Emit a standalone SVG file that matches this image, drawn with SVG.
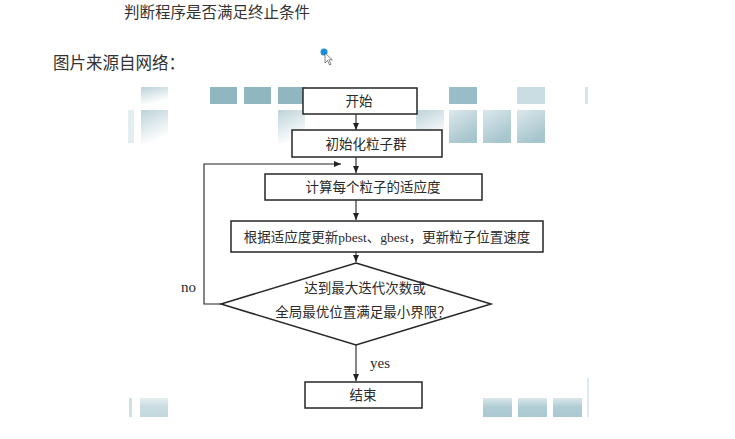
<svg xmlns="http://www.w3.org/2000/svg" width="735" height="439" viewBox="0 0 735 439">
<defs>
<marker id="ah" markerWidth="8" markerHeight="8" refX="7" refY="4" orient="auto" markerUnits="userSpaceOnUse"><path d="M0,1 L7,4 L0,7 z" fill="#222"/></marker>
<linearGradient id="gFade" x1="0" y1="0" x2="0.4" y2="1"><stop offset="0" stop-color="#bcd3d9"/><stop offset="1" stop-color="#ffffff"/></linearGradient>
<linearGradient id="gMid" x1="0" y1="0" x2="0.5" y2="1"><stop offset="0" stop-color="#dbe8eb"/><stop offset="1" stop-color="#a6c5cd"/></linearGradient>
<linearGradient id="gBot" x1="0" y1="0" x2="0" y2="1"><stop offset="0" stop-color="#dbe8eb"/><stop offset="0.45" stop-color="#b2ced5"/><stop offset="1" stop-color="#a9c8d0"/></linearGradient>
</defs>
<style>
.box{fill:#fff;stroke:#262626;stroke-width:1.5}
.t{font-family:"Liberation Serif","Noto Sans CJK SC",serif;font-size:13.5px;fill:#2a2a2a;text-anchor:middle;dominant-baseline:central}
.lbl{font-family:"Liberation Serif",serif;font-size:15px;fill:#2a2a2a}
.ln{stroke:#222;stroke-width:1.1;fill:none}
.dark{fill:#90b6c0}
.light{fill:#c9dde2}
.hd{font-family:"Noto Sans CJK SC",sans-serif;fill:#333}
</style>
<rect width="735" height="439" fill="#fff"/>
<text class="hd" x="124" y="18" font-size="15.5">判断程序是否满足终止条件</text>
<text class="hd" x="53" y="69" font-size="16.5">图片来源自网络：</text>
<g id="cursor">
<circle cx="324" cy="52" r="3.5" fill="#1a8fd6"/>
<path d="M325,53 L325,63 L327.5,60.5 L329.5,65 L331,64.3 L329,59.8 L332.3,59.8 Z" fill="#fff" stroke="#555" stroke-width="0.7"/>
</g>
<g id="background">
<rect x="141" y="87" width="27" height="17" fill="url(#gFade)"/>
<rect x="210" y="87" width="27" height="17" class="dark"/>
<rect x="244" y="87" width="27" height="17" class="dark"/>
<rect x="278" y="87" width="27" height="17" class="dark"/>
<rect x="449" y="87" width="28" height="17" fill="#99bdc6"/>
<rect x="517" y="87" width="28" height="17" class="light"/>
<rect x="585" y="87" width="3" height="17" fill="#d5e5e9"/>
<rect x="128" y="110" width="6" height="33" fill="#e3eef0"/>
<rect x="141" y="110" width="27" height="33" fill="url(#gFade)"/>
<rect x="278" y="110" width="27" height="33" fill="url(#gFade)"/>
<rect x="416" y="110" width="28" height="33" fill="url(#gFade)"/>
<rect x="449" y="110" width="28" height="33" fill="url(#gMid)"/>
<rect x="483" y="110" width="28" height="33" fill="url(#gMid)"/>
<rect x="517" y="110" width="28" height="33" fill="url(#gMid)"/>
<rect x="129" y="398" width="3" height="19" fill="#cfe0e4"/>
<rect x="140" y="398" width="28" height="19" fill="url(#gBot)" opacity="0.7"/>
<rect x="483" y="398" width="29" height="19" fill="url(#gBot)"/>
<rect x="518" y="398" width="29" height="19" fill="url(#gBot)"/>
<rect x="553" y="398" width="29" height="19" fill="url(#gBot)"/>
<rect x="587" y="378" width="2" height="39" fill="#dfeaec"/>
</g>
<g id="connectors">
<path class="ln" d="M356,114 L356,130" marker-end="url(#ah)"/>
<path class="ln" d="M356,157 L356,173" marker-end="url(#ah)"/>
<path class="ln" d="M356,200 L356,220" marker-end="url(#ah)"/>
<path class="ln" d="M356,252 L356,262" marker-end="url(#ah)"/>
<path class="ln" d="M356,345 L356,381" marker-end="url(#ah)"/>
<path class="ln" d="M221,304 L204,304 L204,164 L341,164" marker-end="url(#ah)"/>
<text class="lbl" x="181" y="292">no</text>
<text class="lbl" x="370" y="368">yes</text>
</g>
<g id="start">
<rect class="box" x="303" y="88" width="114" height="26"/>
<text class="t" x="359" y="101">开始</text>
</g>
<g id="init">
<rect class="box" x="292" y="130" width="150" height="27"/>
<text class="t" x="366" y="144">初始化粒子群</text>
</g>
<g id="fitness">
<rect class="box" x="265" y="174" width="217" height="26"/>
<text class="t" x="373" y="187">计算每个粒子的适应度</text>
</g>
<g id="update">
<rect class="box" x="231" y="221" width="312" height="31"/>
<text class="t" x="387" y="237">根据适应度更新pbest、gbest，更新粒子位置速度</text>
</g>
<g id="decision">
<polygon class="box" points="356,263 491,304 356,345 221,304"/>
<text class="t" x="365" y="288">达到最大迭代次数或</text>
<text class="t" x="363" y="312">全局最优位置满足最小界限？</text>
</g>
<g id="end">
<rect class="box" x="305" y="382" width="117" height="26"/>
<text class="t" x="363" y="395">结束</text>
</g>
</svg>
